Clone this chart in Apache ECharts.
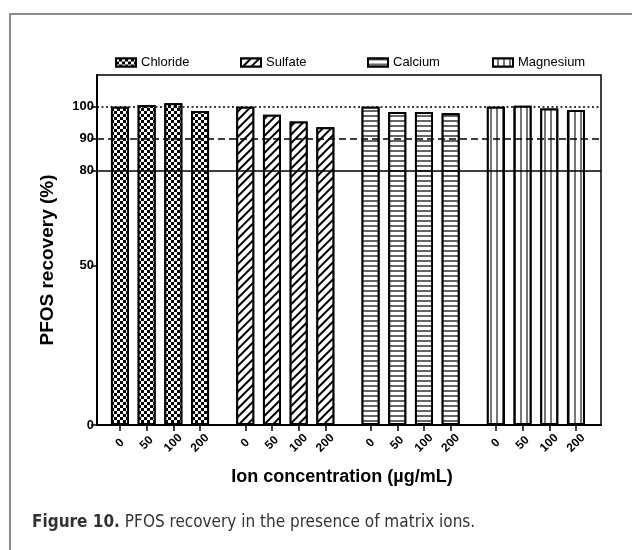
<!DOCTYPE html>
<html>
<head>
<meta charset="utf-8">
<script src="https://cdn.jsdelivr.net/npm/echarts@6/dist/echarts.min.js"></script>
<style>
  html, body { margin: 0; padding: 0; background: #fff; }
  #main { width: 632px; height: 550px; }
</style>
</head>
<body>
<div id="main"></div>
<script>
// data
var concentrations = ['0', '50', '100', '200'];
var ions = ['Chloride', 'Sulfate', 'Calcium', 'Magnesium'];
var chloride = [100, 100.6, 101.1, 98.7];
var sulfate = [100, 97.5, 95.4, 93.6];
var calcium = [100, 98.4, 98.4, 98.0];
var magnesium = [100, 100.3, 99.5, 99.0];
var yTicks = [0, 50, 80, 90, 100];
var refLines = [100, 90, 80];

var values = [chloride, sulfate, calcium, magnesium];
var font = 'Liberation Sans, Arial, sans-serif';
var capFont = 'DejaVu Sans Condensed, Liberation Sans Narrow, sans-serif';

// fill patterns of the four groups
var decals = [
    {symbol: 'rect', symbolSize: 1, color: '#000', backgroundColor: '#fff',
     dashArrayX: [[3, 3], [0, 3, 3, 0]], dashArrayY: [3, 0]},
    {symbol: 'rect', symbolSize: 1, color: '#000', backgroundColor: '#fff',
     dashArrayX: [1, 0], dashArrayY: [1.6, 3.4], rotation: -Math.PI / 4},
    {symbol: 'rect', symbolSize: 1, color: '#666', backgroundColor: '#fff',
     dashArrayX: [1, 0], dashArrayY: [1.3, 2.5]},
    {symbol: 'rect', symbolSize: 1, color: '#777', backgroundColor: '#fff',
     dashArrayX: [1, 0], dashArrayY: [1.3, 3.2], rotation: Math.PI / 2}
];

var myChart = echarts.init(document.getElementById('main'), null, {renderer: 'canvas'});

var plotTop = 75, plotBottom = 125;
var groupLeft = [106.6, 231.9, 357.2, 482.5];
var groupWidth = 106.8;

var grids = [{left: 97, right: 31, top: plotTop, bottom: plotBottom,
              show: true, borderColor: '#000', borderWidth: 1.5, backgroundColor: 'transparent'}];
var xAxes = [{
    gridIndex: 0, type: 'category', data: [''],
    axisLine: {show: true, lineStyle: {color: '#000', width: 2}},
    axisTick: {show: false}, axisLabel: {show: false}, splitLine: {show: false},
    name: 'Ion concentration (\u00b5g/mL)', nameLocation: 'middle', nameGap: 43,
    nameTextStyle: {fontFamily: font, fontWeight: 'bold', fontSize: 18, color: '#000', padding: [0, 14, 0, 0]}
}];
var yAxes = [{
    gridIndex: 0, type: 'value', min: 0, max: 110,
    axisLine: {show: true, lineStyle: {color: '#000', width: 2}},
    axisTick: {show: true, length: 6, customValues: yTicks, lineStyle: {color: '#000', width: 1.5}},
    axisLabel: {customValues: yTicks, fontFamily: font, fontWeight: 'bold', fontSize: 13, color: '#000', margin: 3},
    splitLine: {show: false},
    name: 'PFOS recovery (%)', nameLocation: 'middle', nameGap: 40, nameRotate: 90,
    nameTextStyle: {fontFamily: font, fontWeight: 'bold', fontSize: 19, color: '#000', padding: [0, 20, 0, 0]}
}];
var series = [{
    type: 'line', xAxisIndex: 0, yAxisIndex: 0, data: [], silent: true,
    markLine: {
        silent: true, symbol: 'none', label: {show: false}, z: 10,
        data: refLines.map(function (v, i) {
            return {yAxis: v, lineStyle: {color: '#000', width: 1.5,
                type: i === 0 ? [2, 2.5] : (i === 1 ? [7, 4] : 'solid')}};
        })
    }
}];

var legends = [];
var legendLeft = [110, 235, 362, 487];

ions.forEach(function (name, i) {
    var g = i + 1;
    grids.push({left: groupLeft[i], width: groupWidth, top: plotTop, bottom: plotBottom});
    xAxes.push({
        gridIndex: g, type: 'category', data: concentrations,
        axisLine: {show: false},
        axisTick: {show: true, alignWithLabel: true, length: 6, lineStyle: {color: '#000', width: 1.5}},
        axisLabel: {rotate: 45, align: 'center', verticalAlign: 'middle', fontFamily: font,
                    fontWeight: 'bold', fontSize: 12, color: '#000', margin: 18},
        splitLine: {show: false}
    });
    yAxes.push({gridIndex: g, type: 'value', min: 0, max: 110, show: false, splitLine: {show: false}});
    series.push({
        name: name, type: 'bar', xAxisIndex: g, yAxisIndex: g,
        barWidth: 18, data: values[i],
        itemStyle: {color: '#fff', borderColor: '#000', borderWidth: 2, decal: decals[i]}
    });
    legends.push({
        data: [name], left: legendLeft[i], top: 51, itemWidth: 20, itemHeight: 8, icon: 'rect',
        itemStyle: {borderColor: '#000', borderWidth: 2, decal: decals[i]},
        textStyle: {fontFamily: font, fontSize: 13, color: '#000'}, itemGap: 6
    });
});

var option = {
    backgroundColor: '#fff',
    animation: false,
    aria: {decal: {show: true}},
    legend: legends,
    grid: grids,
    xAxis: xAxes,
    yAxis: yAxes,
    series: series,
    title: {
        left: 27, top: 509,
        text: '{b|Figure 10.} {r|PFOS recovery in the presence of matrix ions.}',
        textStyle: {
            rich: {
                b: {fontFamily: capFont, fontWeight: 'bold', fontSize: 17, color: '#333'},
                r: {fontFamily: capFont, fontWeight: 'normal', fontSize: 17, color: '#333'}
            }
        }
    },
    graphic: [{
        type: 'polyline', silent: true,
        shape: {points: [[10, 550], [10, 14], [632, 14]]},
        style: {stroke: '#666', lineWidth: 1.5, fill: null}
    }]
};

myChart.setOption(option);
window.addEventListener('resize', function () {
    myChart.resize();
});
</script>
</body>
</html>
